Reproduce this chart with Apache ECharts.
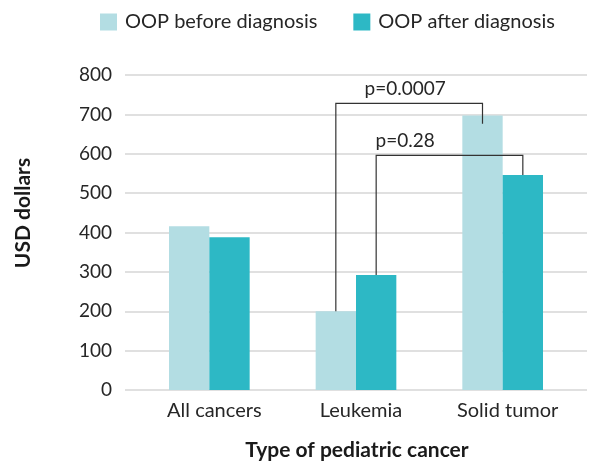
<!DOCTYPE html>
<html>
<head>
<meta charset="utf-8">
<script src="https://cdn.jsdelivr.net/npm/echarts@6/dist/echarts.min.js"></script>
<style>
html,body{margin:0;padding:0;background:#fff;}
#chart{width:589px;height:463px;}
</style>
</head>
<body>
<div id="chart"></div>
<script>
// ---- data ----
const categories = ['All cancers', 'Leukemia', 'Solid tumor'];
const seriesNames = ['OOP before diagnosis', 'OOP after diagnosis'];
const beforeValues = [416, 200, 697];
const afterValues = [388, 292, 546];
const yTicks = [0, 100, 200, 300, 400, 500, 600, 700, 800];
// significance brackets: [fromCategory, fromSeries, toCategory, toSeries]
const bracketPairs = [[1, 0, 2, 0], [1, 1, 2, 1]];
const bracketTopValues = [728, 596];
const bracketRightEndValues = [676, 546];
const pLabels = ['p=0.0007', 'p=0.28'];

// ---- styles ----
const FONT = 'Lato';
const TEXT = '#262626';
const C_BEFORE = '#b3dde3';
const C_AFTER = '#2db8c5';
const CAT_GAP = 0.45;

const seriesValues = [beforeValues, afterValues];
const bracketData = bracketPairs.map((p, i) => [
  p[0], p[1], p[2], p[3],
  bracketTopValues[i],
  seriesValues[p[1]][p[0]],
  bracketRightEndValues[i],
  i
]);

const chart = echarts.init(document.getElementById('chart'), null, {renderer: 'canvas'});

const option = {
  animation: false,
  backgroundColor: '#fff',
  textStyle: {fontFamily: FONT, color: TEXT},
  legend: {
    data: seriesNames,
    left: 100,
    top: 12,
    padding: 0,
    itemWidth: 17,
    itemHeight: 17,
    itemGap: 36,
    icon: 'rect',
    textStyle: {fontFamily: FONT, fontSize: 20, color: TEXT, padding: [0, 0, 0, 3]}
  },
  grid: [
    {left: 125, right: 2, top: 75, bottom: 73},
    {left: 136, right: 13, top: 75, bottom: 73}
  ],
  xAxis: [
    {gridIndex: 0, type: 'category', data: categories, show: false},
    {
      gridIndex: 1, type: 'category', data: categories,
      axisLine: {show: false}, axisTick: {show: false},
      axisLabel: {fontFamily: FONT, fontSize: 20, color: TEXT, margin: 11, padding: [0, 0, 0, 10]}
    }
  ],
  yAxis: [
    {
      gridIndex: 0, type: 'value', min: 0, max: 800, interval: 100,
      axisLine: {show: false}, axisTick: {show: false},
      axisLabel: {fontFamily: FONT, fontSize: 19, color: TEXT, margin: 13,
        formatter: v => yTicks.indexOf(v) >= 0 ? String(v) : ''},
      splitLine: {lineStyle: {color: '#d6d6d6', width: 1.5}}
    },
    {
      gridIndex: 1, type: 'value', min: 0, max: 800, interval: 100,
      show: false, splitLine: {show: false}
    }
  ],
  graphic: [
    {
      type: 'text', x: 23.5, y: 213, rotation: Math.PI / 2,
      style: {text: 'USD dollars', fontFamily: FONT, fontSize: 21, fontWeight: 'bold',
        fill: '#1a1a1a', align: 'center', verticalAlign: 'middle'}
    },
    {
      type: 'text', x: 357, y: 450,
      style: {text: 'Type of pediatric cancer', fontFamily: FONT, fontSize: 21, fontWeight: 'bold',
        fill: '#1a1a1a', align: 'center', verticalAlign: 'middle'}
    }
  ],
  series: [
    {
      name: seriesNames[0], type: 'bar', xAxisIndex: 1, yAxisIndex: 1,
      data: beforeValues, barGap: 0, barCategoryGap: (CAT_GAP * 100) + '%',
      itemStyle: {color: C_BEFORE}
    },
    {
      name: seriesNames[1], type: 'bar', xAxisIndex: 1, yAxisIndex: 1,
      data: afterValues, barGap: 0, barCategoryGap: (CAT_GAP * 100) + '%',
      itemStyle: {color: C_AFTER}
    },
    {
      type: 'custom', xAxisIndex: 1, yAxisIndex: 1, z: 10, silent: true,
      data: bracketData,
      renderItem: function (params, api) {
        const fromCat = api.value(0), fromSer = api.value(1);
        const toCat = api.value(2), toSer = api.value(3);
        const topV = api.value(4), leftV = api.value(5), rightV = api.value(6);
        const idx = api.value(7);
        const band = api.size([1, 0])[0];
        const bw = band * (1 - CAT_GAP) / 2;
        const off = s => (s === 0 ? -bw / 2 : bw / 2);
        const pL = api.coord([fromCat, leftV]);
        const pR = api.coord([toCat, rightV]);
        const yTop = api.coord([fromCat, topV])[1];
        const x1 = pL[0] + off(fromSer);
        const x2 = pR[0] + off(toSer);
        // labels share a common anchor: centre of the outer bracket span
        const anchorX = (api.coord([1, 0])[0] + api.coord([2, 0])[0]) / 2 - bw / 2 - 4;
        return {
          type: 'group',
          children: [
            {
              type: 'polyline',
              shape: {points: [[x1, pL[1]], [x1, yTop], [x2, yTop], [x2, pR[1]]]},
              style: {stroke: '#333', lineWidth: 1.2, fill: null}
            },
            {
              type: 'text',
              x: anchorX, y: yTop - 14,
              style: {text: pLabels[idx], fontFamily: FONT, fontSize: 19, fill: TEXT,
                align: 'center', verticalAlign: 'middle'}
            }
          ]
        };
      }
    }
  ]
};
chart.setOption(option);
</script>
</body>
</html>
